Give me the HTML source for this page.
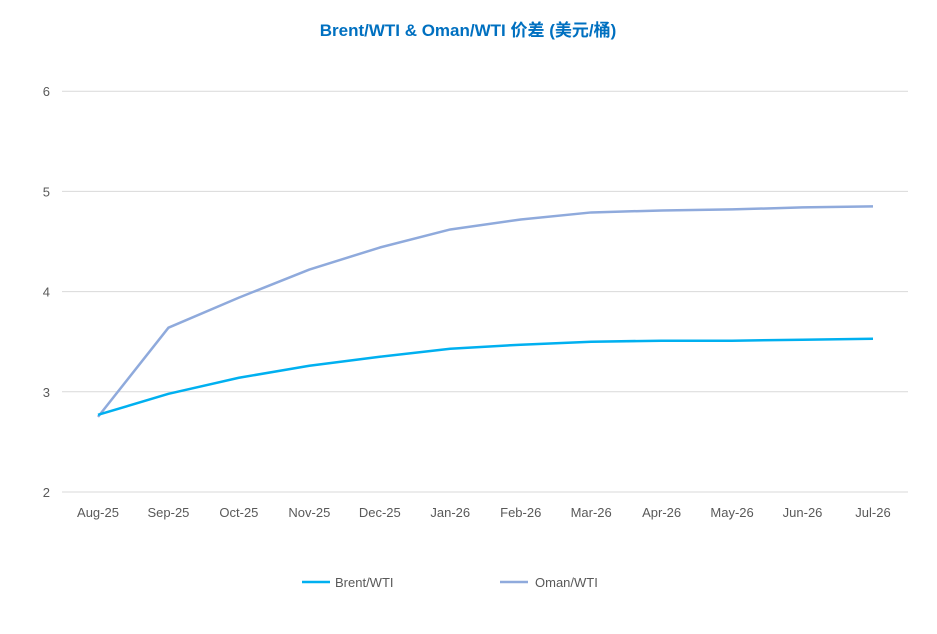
<!DOCTYPE html>
<html><head><meta charset="utf-8">
<style>
body{margin:0;background:#fff;}
svg{display:block;font-family:"Liberation Sans","Noto Sans CJK SC",sans-serif;}
</style></head>
<body>
<svg id="chart" width="937" height="634">
<text x="468" y="36" text-anchor="middle" font-size="17" font-weight="bold" fill="#0070c0">Brent/WTI &amp; Oman/WTI 价差 (美元/桶)</text>
<g id="grid"></g><g id="yt"></g><g id="xt"></g><g id="series"></g>
<g>
<line x1="302" y1="582" x2="330" y2="582" stroke="#00b0f0" stroke-width="2.5"/>
<text x="335" y="587" font-size="13" fill="#595959">Brent/WTI</text>
<line x1="500" y1="582" x2="528" y2="582" stroke="#8faadc" stroke-width="2.5"/>
<text x="535" y="587" font-size="13" fill="#595959">Oman/WTI</text>
</g>
</svg>
<script>
const categories=["Aug-25","Sep-25","Oct-25","Nov-25","Dec-25","Jan-26","Feb-26","Mar-26","Apr-26","May-26","Jun-26","Jul-26"];
const brent=[2.77,2.98,3.14,3.26,3.35,3.43,3.47,3.50,3.51,3.51,3.52,3.53];
const oman=[2.75,3.64,3.94,4.22,4.44,4.62,4.72,4.79,4.81,4.82,4.84,4.85];
const yTicks=[2,3,4,5,6];
const NS="http://www.w3.org/2000/svg";
const x=i=>98+i*(873-98)/(categories.length-1);
const y=v=>492-(v-2)*100.2;
function mk(tag,attrs,parent){const e=document.createElementNS(NS,tag);for(const k in attrs)e.setAttribute(k,attrs[k]);document.getElementById(parent).appendChild(e);return e;}
yTicks.forEach(t=>{
 const l=mk('line',{x1:62,x2:908,y1:y(t),y2:y(t),stroke:'#d9d9d9','stroke-width':1},'grid');
 
 
 const tx=mk('text',{x:50,y:y(t)+5,'text-anchor':'end','font-size':13,fill:'#595959'},'yt');
 tx.textContent=t;
 
 
});
categories.forEach((c,i)=>{
 const tx=mk('text',{x:x(i),y:517,'text-anchor':'middle','font-size':13,fill:'#595959'},'xt');
 tx.textContent=c;
 
 
});
function line(vals,color,name){
 const p=mk('polyline',{points:vals.map((v,i)=>x(i)+','+y(v)).join(' '),fill:'none',stroke:color,'stroke-width':2.5,'stroke-linejoin':'round'},'series');
 
 
}
line(oman,'#8faadc','oman-wti-line');
line(brent,'#00b0f0','brent-wti-line');
</script>
</body></html>
